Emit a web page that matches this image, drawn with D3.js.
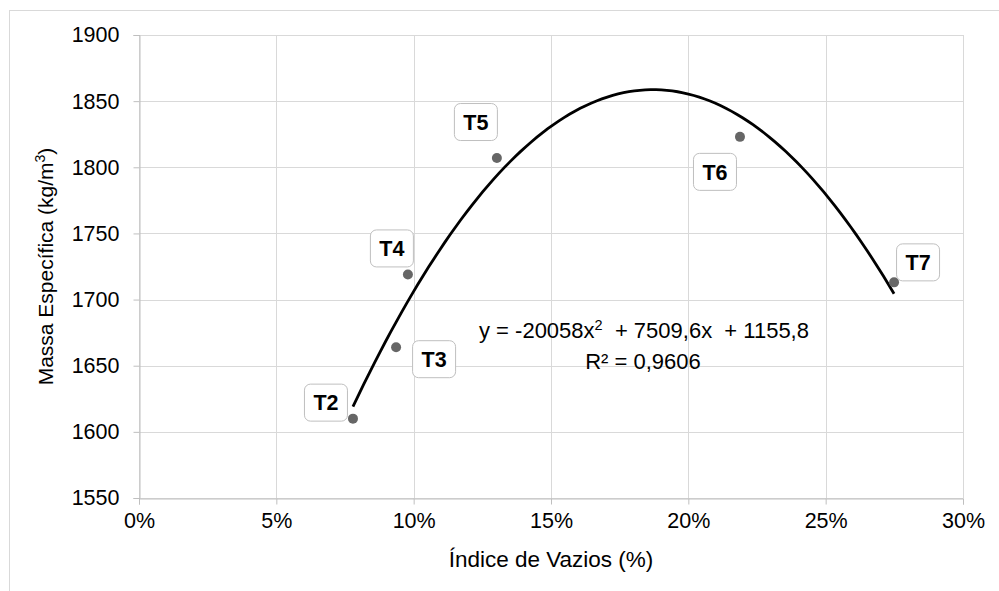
<!DOCTYPE html>
<html>
<head>
<meta charset="utf-8">
<script src="https://cdn.jsdelivr.net/npm/d3@7"></script>
<style>
  body { margin: 0; background: #fff; }
  text { font-family: "Liberation Sans", Arial, sans-serif; fill: #000; }
</style>
</head>
<body>
<div id="chart"></div>
<script>
// sample names and measured values
const labels = ["T2", "T3", "T4", "T5", "T6", "T7"];
const voids = [0.0779, 0.0936, 0.0979, 0.1303, 0.2188, 0.2749];     // Índice de Vazios
const density = [1610, 1664, 1719, 1807, 1823, 1713];              // kg/m3

// polynomial trendline shown on the chart (y = a x^2 + b x + c)
const trendCoef = [-20058, 7509.6, 1155.8];
const rSquared = "0,9606";

const xTicks = [0, 0.05, 0.10, 0.15, 0.20, 0.25, 0.30];
const yTicks = [1550, 1600, 1650, 1700, 1750, 1800, 1850, 1900];

// where each label box sits relative to its point (layout only)
const labelOffsets = [[-27, -16], [38, 12], [-16, -26], [-21, -36], [-25, 35], [24, -20]];

const width = 999, height = 591;
const margin = {left: 139, right: 36, top: 35, bottom: 93};

const svg = d3.select("#chart").append("svg")
    .attr("width", width)
    .attr("height", height);

// chart area border
svg.append("rect")
    .attr("x", 9.5).attr("y", 10.5)
    .attr("width", 1000).attr("height", 600)
    .attr("fill", "none")
    .attr("stroke", "#d9d9d9");

const x = d3.scaleLinear().domain([0, 0.30]).range([margin.left, width - margin.right]);
const y = d3.scaleLinear().domain([1550, 1900]).range([height - margin.bottom, margin.top]);

// gridlines
svg.append("g")
    .selectAll("line.vg")
    .data(xTicks)
    .enter().append("line")
    .attr("x1", d => Math.round(x(d)) + 0.5).attr("x2", d => Math.round(x(d)) + 0.5)
    .attr("y1", y(1900)).attr("y2", y(1550))
    .attr("stroke", "#d9d9d9");

svg.append("g")
    .selectAll("line.hg")
    .data(yTicks)
    .enter().append("line")
    .attr("x1", x(0)).attr("x2", x(0.30))
    .attr("y1", d => Math.round(y(d)) + 0.5).attr("y2", d => Math.round(y(d)) + 0.5)
    .attr("stroke", "#d9d9d9");

// axes
let xAxis = d3.axisBottom(x).tickValues(xTicks).tickSize(6).tickPadding(8)
    .tickFormat(d => Math.round(d * 100) + "%");
let yAxis = d3.axisLeft(y).tickValues(yTicks).tickSize(6).tickPadding(14)
    .tickFormat(d3.format("d"));

let gx = svg.append("g")
    .attr("transform", `translate(0,${Math.round(y(1550)) + 0.5})`)
    .call(xAxis);
let gy = svg.append("g")
    .attr("transform", `translate(${Math.round(x(0)) + 0.5},0)`)
    .call(yAxis);

[gx, gy].forEach(g => {
    g.select(".domain").attr("stroke", "#bfbfbf");
    g.selectAll(".tick line").attr("stroke", "#bfbfbf");
    g.selectAll(".tick text")
        .attr("font-family", "Liberation Sans, Arial, sans-serif")
        .attr("font-size", 21.5)
        .attr("fill", "#000");
});

// axis titles
svg.append("text")
    .attr("x", (x(0) + x(0.30)) / 2)
    .attr("y", 567)
    .attr("text-anchor", "middle")
    .attr("font-size", 22.5)
    .text("Índice de Vazios (%)");

let yt = svg.append("text")
    .attr("transform", `translate(53,${(y(1550) + y(1900)) / 2}) rotate(-90)`)
    .attr("text-anchor", "middle")
    .attr("font-size", 21);
yt.append("tspan").text("Massa Específica (kg/m");
yt.append("tspan").attr("font-size", 14).attr("dy", -8).text("3");
yt.append("tspan").attr("dy", 8).text(")");

// trendline across the range of the data
let xs = d3.range(0, 101).map(i => d3.min(voids) + (d3.max(voids) - d3.min(voids)) * i / 100);
let line = d3.line()
    .x(d => x(d))
    .y(d => y(trendCoef[0] * d * d + trendCoef[1] * d + trendCoef[2]))
    .curve(d3.curveLinear);

svg.append("path")
    .datum(xs)
    .attr("d", line)
    .attr("fill", "none")
    .attr("stroke", "#000")
    .attr("stroke-width", 2.8);

// points
svg.append("g")
    .selectAll("circle")
    .data(voids)
    .enter().append("circle")
    .attr("cx", d => x(d))
    .attr("cy", (d, i) => y(density[i]))
    .attr("r", 5)
    .attr("fill", "#666");

// data labels
let lab = svg.append("g")
    .selectAll("g")
    .data(labels)
    .enter().append("g")
    .attr("transform", (d, i) => `translate(${x(voids[i]) + labelOffsets[i][0]},${y(density[i]) + labelOffsets[i][1]})`);

lab.append("rect")
    .attr("x", -21.5).attr("y", -18.5)
    .attr("width", 43).attr("height", 37)
    .attr("rx", 6)
    .attr("fill", "#fff")
    .attr("stroke", "#bfbfbf");

lab.append("text")
    .attr("text-anchor", "middle")
    .attr("dy", "0.36em")
    .attr("font-size", 21.5)
    .attr("font-weight", "bold")
    .text(d => d);

// equation
let eq = svg.append("text")
    .attr("x", 644).attr("y", 338)
    .attr("text-anchor", "middle")
    .attr("font-size", 22)
    .attr("xml:space", "preserve");
eq.append("tspan").text("y = " + String(trendCoef[0]) + "x");
eq.append("tspan").attr("font-size", 14.5).attr("dy", -8).text("2");
eq.append("tspan").attr("dy", 8).text("  + " + String(trendCoef[1]).replace(".", ",") + "x  + " + String(trendCoef[2]).replace(".", ","));

svg.append("text")
    .attr("x", 643).attr("y", 369)
    .attr("text-anchor", "middle")
    .attr("font-size", 22)
    .text("R² = " + rSquared);
</script>
</body>
</html>
